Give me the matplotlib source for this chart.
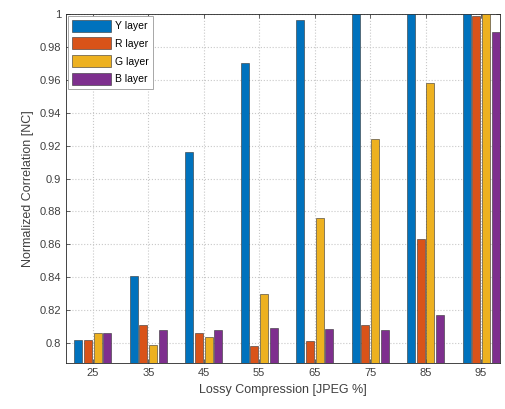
import matplotlib
matplotlib.use("Agg")
import matplotlib.pyplot as plt
import numpy as np

plt.rcParams["font.family"] = ["Liberation Sans", "DejaVu Sans"]

quality = ["25", "35", "45", "55", "65", "75", "85", "95"]
y_layer = [0.802, 0.841, 0.916, 0.970, 0.996, 1.000, 1.000, 1.000]
r_layer = [0.802, 0.811, 0.806, 0.798, 0.801, 0.811, 0.863, 0.999]
g_layer = [0.806, 0.799, 0.804, 0.830, 0.876, 0.924, 0.958, 1.000]
b_layer = [0.806, 0.808, 0.808, 0.809, 0.8085, 0.808, 0.817, 0.989]

series = [("Y layer", y_layer, "#0072BD"),
          ("R layer", r_layer, "#D95319"),
          ("G layer", g_layer, "#EDB120"),
          ("B layer", b_layer, "#7E2F8E")]

fig = plt.figure(figsize=(5.05, 4.09), dpi=100)
ax = fig.add_axes([0.131, 0.112, 0.859, 0.854])

x = np.arange(len(quality))
step = 0.175
width = 0.145
for i, (name, vals, col) in enumerate(series):
    ax.bar(x + (i - 1.5) * step, vals, width, color=col, edgecolor="#333333",
           linewidth=0.4, label=name, zorder=3)

ax.set_xlim(-0.48, 7.34)
ax.set_ylim(0.7878, 1.0)
ax.set_xticks(x)
ax.set_xticklabels(quality)
ax.set_yticks(np.arange(0.80, 1.001, 0.02))
ax.set_yticklabels(["0.8", "0.82", "0.84", "0.86", "0.88", "0.9", "0.92",
                    "0.94", "0.96", "0.98", "1"])

ax.grid(True, linestyle=":", color="#c8c8c8", linewidth=0.8, zorder=0)
ax.tick_params(direction="in", top=True, right=True, length=3, width=0.5,
               labelsize=8, colors="#262626", labelcolor="#404040")
for sp in ax.spines.values():
    sp.set_color("#262626")
    sp.set_linewidth(0.6)

ax.set_xlabel("Lossy Compression [JPEG %]", fontsize=9, color="#404040")
ax.set_ylabel("Normalized Correlation [NC]", fontsize=9, color="#404040")

leg = ax.legend(loc="upper left", fontsize=7.5, handlelength=3.8, handleheight=1.4,
                borderaxespad=0.2, fancybox=False, framealpha=1,
                edgecolor="#999999", labelspacing=0.55, handletextpad=0.35,
                borderpad=0.35)
leg.get_frame().set_linewidth(0.6)

fig.savefig("out.png", dpi=100)
